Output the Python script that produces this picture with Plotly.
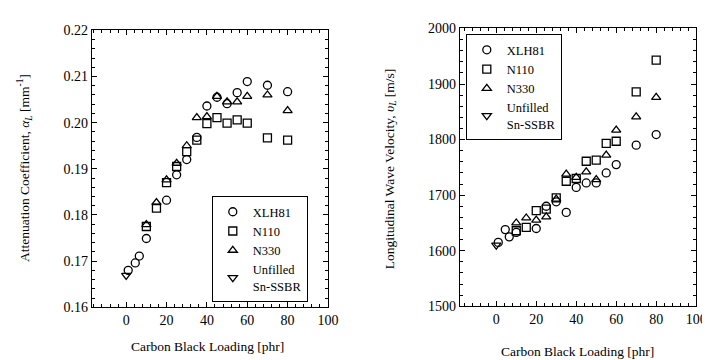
import plotly.graph_objects as go

# ---------------- data ----------------
series_names = ["XLH81", "N110", "N330", "Unfilled<br>Sn-SSBR"]

xlh81_x = [1, 4.5, 6.5, 10, 20, 25, 30, 35, 40, 45, 50, 55, 60, 70, 80]
xlh81_att = [0.1680, 0.1696, 0.1711, 0.1749, 0.1832, 0.1887, 0.1920, 0.1968,
             0.2036, 0.2055, 0.2041, 0.2065, 0.2089, 0.2081, 0.2067]
xlh81_vel = [1615, 1638, 1625, 1633, 1640, 1680, 1688, 1669,
             1714, 1722, 1722, 1740, 1755, 1790, 1809]

n110_x = [10, 15, 20, 25, 30, 35, 40, 45, 50, 55, 60, 70, 80]
n110_att = [0.1775, 0.1815, 0.1870, 0.1905, 0.1937, 0.1962, 0.1998, 0.2011,
            0.1999, 0.2006, 0.1999, 0.1967, 0.1962]
n110_vel = [1636, 1642, 1672, 1675, 1695, 1725, 1730, 1761, 1763, 1793, 1797, 1886, 1943]

n330_x = [10, 15, 20, 25, 30, 35, 40, 45, 50, 55, 60, 70, 80]
n330_att = [0.1779, 0.1827, 0.1876, 0.1912, 0.1950, 0.2011, 0.2013, 0.2057,
            0.2045, 0.2045, 0.2057, 0.2060, 0.2026]
n330_vel = [1650, 1659, 1655, 1661, 1693, 1738, 1732, 1742, 1728, 1772, 1817, 1841, 1876]

unfilled_x = [0]
unfilled_att = [0.1669]
unfilled_vel = [1610]

x_ticks = [0, 20, 40, 60, 80, 100]
att_ticks = [0.16, 0.17, 0.18, 0.19, 0.20, 0.21, 0.22]
vel_ticks = [1500, 1600, 1700, 1800, 1900, 2000]

# ---------------- figure ----------------
FONT = "Liberation Serif"
symbols = ["circle-open", "square-open", "triangle-up-open", "triangle-down-open"]

fig = go.Figure()

left_sets = [(xlh81_x, xlh81_att), (n110_x, n110_att), (n330_x, n330_att), (unfilled_x, unfilled_att)]
right_sets = [(xlh81_x, xlh81_vel), (n110_x, n110_vel), (n330_x, n330_vel), (unfilled_x, unfilled_vel)]

for i, (xs, ys) in enumerate(left_sets):
    fig.add_trace(go.Scatter(
        x=xs, y=ys, mode="markers", name=series_names[i],
        marker=dict(symbol=symbols[i], size=8, color="black", line=dict(width=1.3)),
        xaxis="x", yaxis="y", legend="legend"))

for i, (xs, ys) in enumerate(right_sets):
    fig.add_trace(go.Scatter(
        x=xs, y=ys, mode="markers", name=series_names[i],
        marker=dict(symbol=symbols[i], size=8, color="black", line=dict(width=1.3)),
        xaxis="x2", yaxis="y2", legend="legend2"))

axis_common = dict(
    showline=True, linecolor="black", linewidth=1, mirror="ticks",
    ticks="inside", ticklen=5, tickcolor="black", tickwidth=1,
    showgrid=False, zeroline=False,
    tickfont=dict(family=FONT, size=14, color="black"),
)

fig.update_layout(
    width=710, height=360,
    margin=dict(l=0, r=0, t=0, b=0),
    paper_bgcolor="white", plot_bgcolor="white",
    font=dict(family=FONT, size=13, color="black"),
    xaxis=dict(domain=[85 / 710, 325 / 710], range=[-17.1, 100], tickvals=x_ticks,
               minor=dict(ticks="inside", ticklen=3, dtick=4, tick0=0, tickcolor="black"),
               anchor="y", **axis_common),
    yaxis=dict(domain=[0.1528, 0.9556], range=[0.16, 0.22], tickvals=att_ticks,
               tickformat=".2f",
               minor=dict(ticks="inside", ticklen=3, dtick=0.002, tick0=0.16, tickcolor="black"),
               anchor="x", **axis_common),
    xaxis2=dict(domain=[459 / 710, 699 / 710], range=[-18.2, 100], tickvals=x_ticks,
                minor=dict(ticks="inside", ticklen=3, dtick=4, tick0=0, tickcolor="black"),
                anchor="y2", **axis_common),
    yaxis2=dict(domain=[0.1556, 0.9611], range=[1500, 2000], tickvals=vel_ticks,
                minor=dict(ticks="inside", ticklen=3, dtick=20, tick0=1500, tickcolor="black"),
                anchor="x2", **axis_common),
    legend=dict(x=207 / 710, y=1 - 189 / 360, xanchor="left", yanchor="top",
                bordercolor="black", borderwidth=1, bgcolor="white",
                font=dict(family=FONT, size=12.5, color="black"),
                tracegroupgap=0, itemwidth=30),
    legend2=dict(x=465 / 710, y=1 - 20 / 360, xanchor="left", yanchor="top",
                 bordercolor="black", borderwidth=1, bgcolor="white",
                 font=dict(family=FONT, size=12.5, color="black"),
                 tracegroupgap=0, itemwidth=30),
    showlegend=True,
)

annots = [
    dict(text="Attenuation Coefficient, <i>α<sub>L</sub></i> [mm<sup>-1</sup>]",
         x=17 / 710, y=1 - 160 / 360, textangle=-90),
    dict(text="Longitudinal Wave Velocity, <i>υ<sub>L</sub></i> [m/s]",
         x=388 / 710, y=1 - 160 / 360, textangle=-90),
    dict(text="Carbon Black Loading [phr]", x=203 / 710, y=1 - 346 / 360, textangle=0),
    dict(text="Carbon Black Loading [phr]", x=578 / 710, y=1 - 351 / 360, textangle=0),
]
for a in annots:
    fig.add_annotation(xref="paper", yref="paper", showarrow=False,
                       xanchor="center", yanchor="middle",
                       font=dict(family=FONT, size=13.5, color="black"), **a)

fig.write_html("out.html")
